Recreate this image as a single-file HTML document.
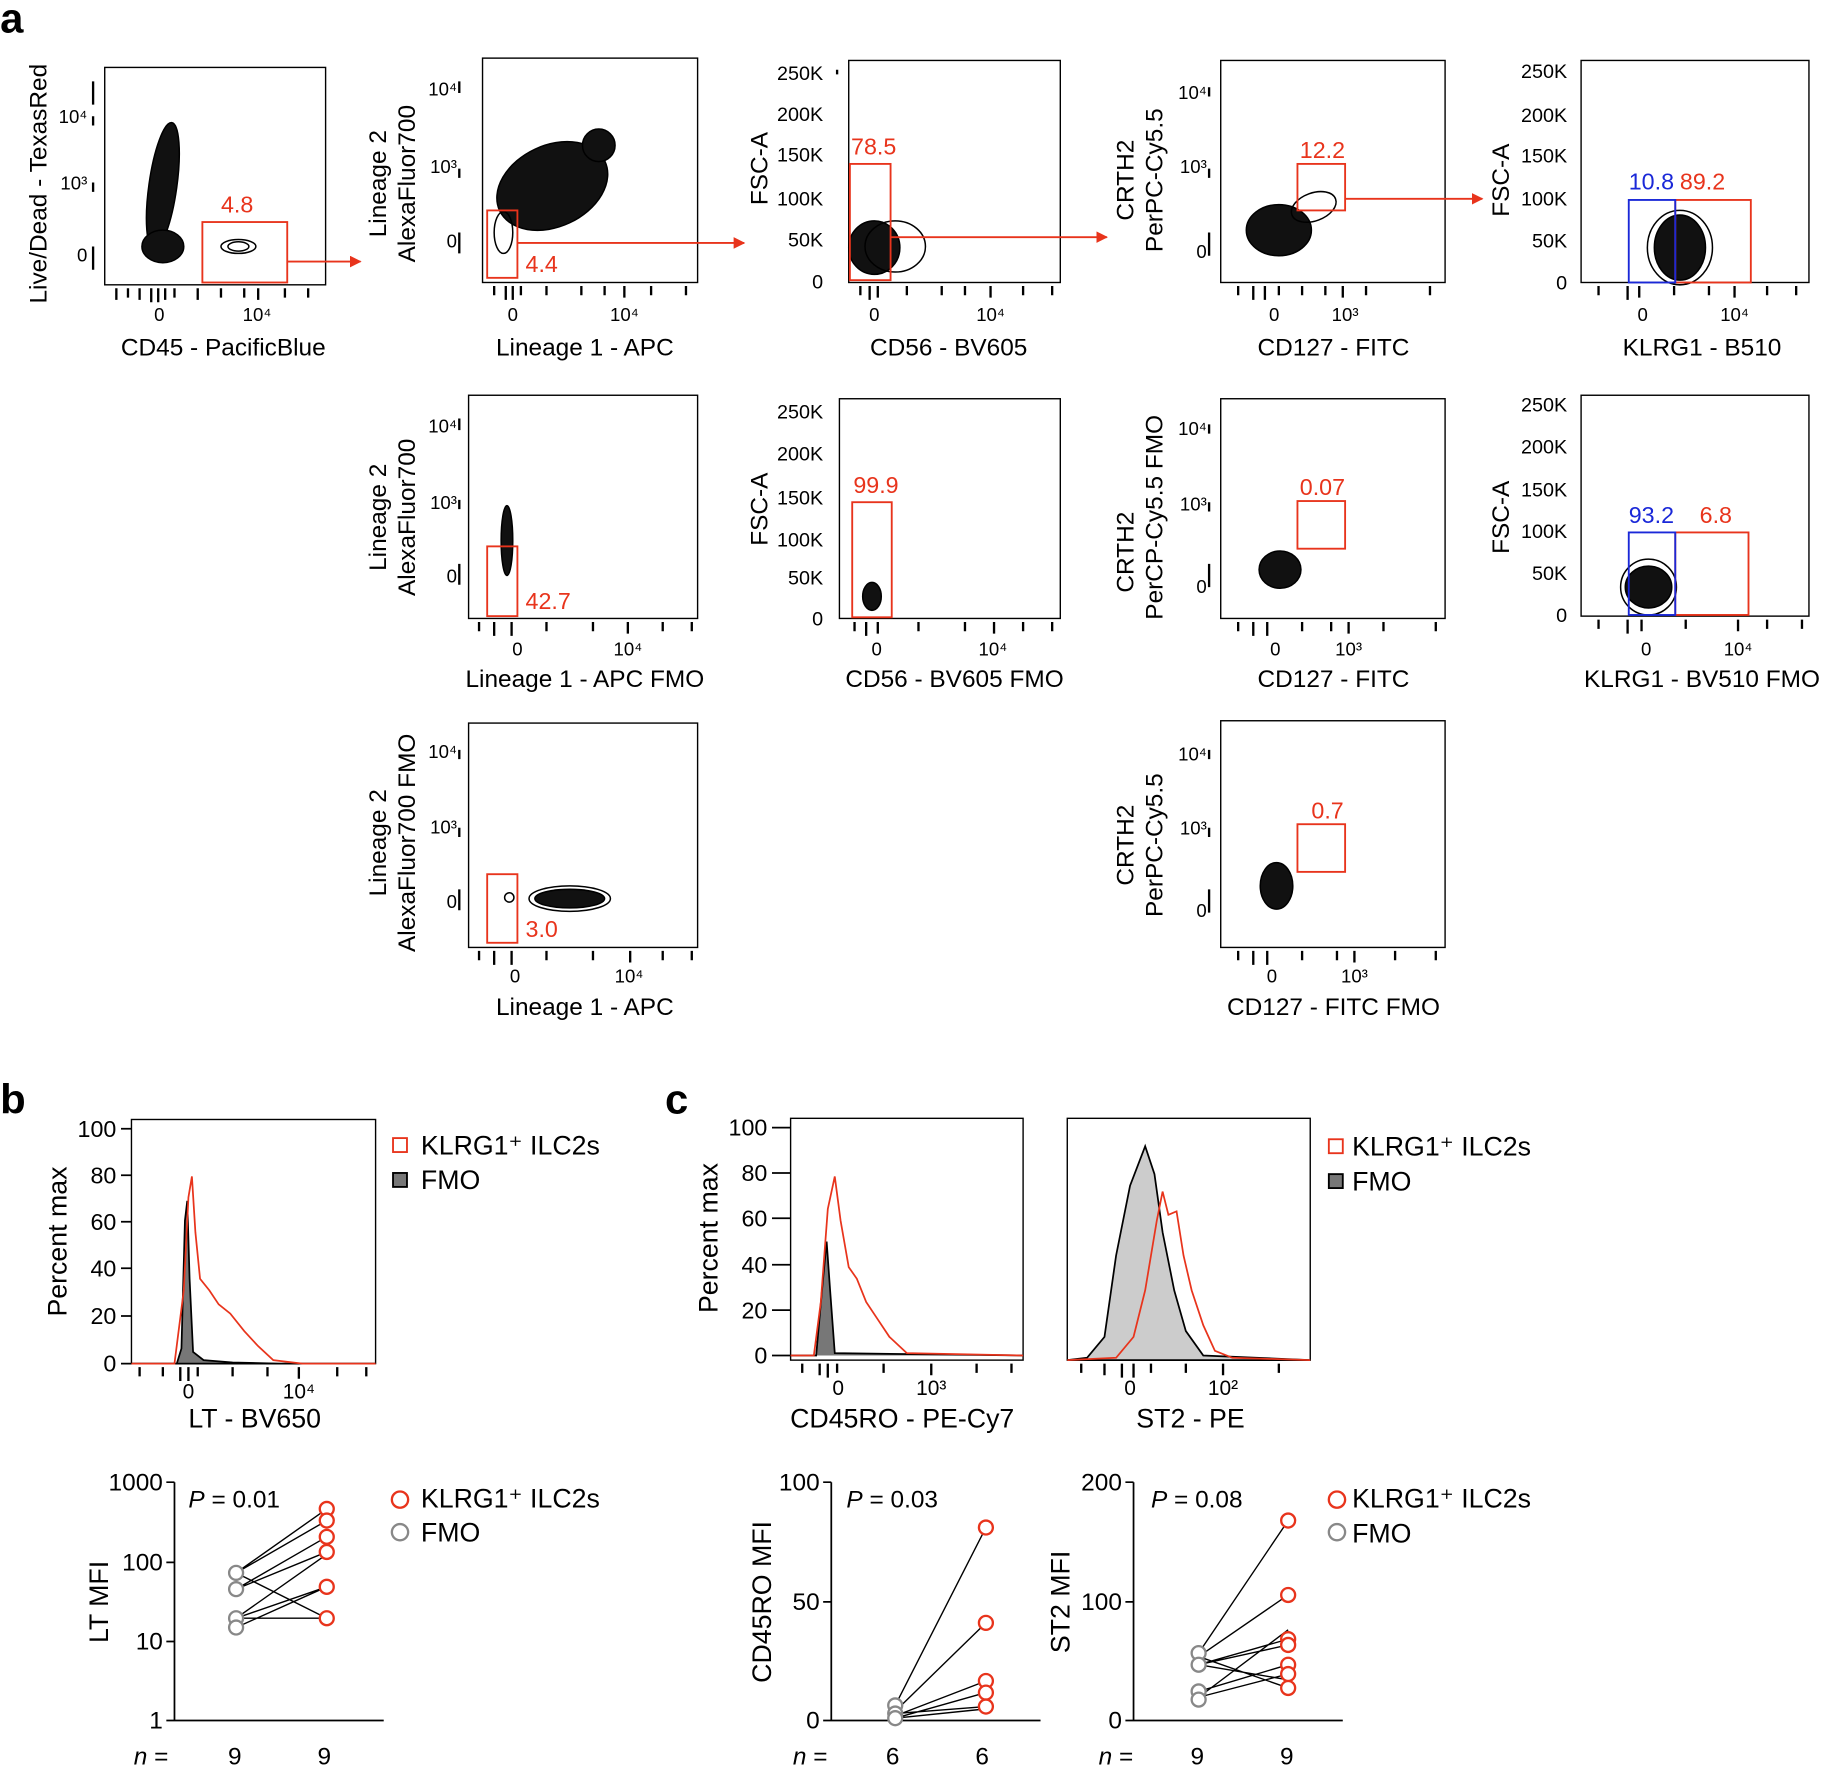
<!DOCTYPE html>
<html><head><meta charset="utf-8"><style>html,body{margin:0;padding:0;background:#fff}svg{display:block}text{font-family:"Liberation Sans",Arial,sans-serif}</style></head><body>
<svg width="1823" height="1767" viewBox="0 0 1568 1520" xmlns="http://www.w3.org/2000/svg">
<defs>
<marker id="ar" markerWidth="10" markerHeight="10" refX="9" refY="5" orient="auto" markerUnits="userSpaceOnUse"><path d="M0,0 L10,5 L0,10 z" fill="#e8341c"/></marker>
</defs>
<g font-size="20" fill="#000">
<text x="0" y="28" font-size="36" font-weight="bold">a</text>
<text x="0" y="958" font-size="36" font-weight="bold">b</text>
<text x="572" y="958" font-size="36" font-weight="bold">c</text>
</g>

<g fill="none" stroke="#000" stroke-width="1.2">
<rect x="90" y="58" width="190" height="187"/>
<rect x="415" y="50" width="185" height="193"/>
<rect x="730" y="52" width="182" height="191"/>
<rect x="1050" y="52" width="193" height="191"/>
<rect x="1360" y="52" width="196" height="191"/>
<rect x="403" y="340" width="197" height="192"/>
<rect x="722" y="343" width="190" height="189"/>
<rect x="1050" y="343" width="193" height="189"/>
<rect x="1360" y="340" width="196" height="190"/>
<rect x="403" y="622" width="197" height="193"/>
<rect x="1050" y="620" width="193" height="195"/>
<rect x="113" y="963" width="210" height="210"/>
<rect x="680" y="962" width="200" height="208"/>
<rect x="918" y="962" width="209" height="208"/>
</g>

<g stroke="#000" stroke-width="2">
<path d="M100 248v10M110 248v8M120 248v10M130 248v12M136 248v12M142 248v10M150 248v8M170 248v10M190 248v8M210 248v8M222 248v10M245 248v8M265 248v8"/>
<path d="M425 246v8M435 246v12M441 246v12M448 246v8M470 246v8M500 246v8M520 246v8M537 246v10M560 246v8M590 246v8"/>
<path d="M740 246v8M748 246v12M755 246v10M780 246v8M810 246v8M830 246v8M852 246v10M880 246v8M905 246v8"/>
<path d="M1065 246v8M1078 246v12M1088 246v12M1100 246v8M1120 246v8M1140 246v8M1155 246v10M1175 246v8M1230 246v8"/>
<path d="M1375 246v8M1400 246v12M1410 246v10M1440 246v8M1470 246v8M1492 246v10M1520 246v8M1545 246v8"/>
<path d="M412 535v8M425 535v12M440 535v12M470 535v8M510 535v8M540 535v10M570 535v8M595 535v8"/>
<path d="M735 535v8M745 535v12M755 535v10M790 535v8M830 535v8M855 535v10M880 535v8M905 535v8"/>
<path d="M1065 535v8M1078 535v12M1090 535v12M1120 535v8M1145 535v8M1160 535v10M1190 535v8M1235 535v8"/>
<path d="M1375 533v8M1400 533v12M1412 533v10M1450 533v8M1495 533v10M1520 533v8M1550 533v8"/>
<path d="M412 818v8M425 818v12M440 818v12M470 818v8M510 818v8M542 818v10M570 818v8M595 818v8"/>
<path d="M1065 818v8M1078 818v12M1090 818v12M1120 818v8M1150 818v8M1165 818v10M1200 818v8M1235 818v8"/>
<path d="M120 1176v8M140 1176v8M155 1176v12M162 1176v12M170 1176v8M200 1176v8M230 1176v8M257 1176v10M290 1176v8M315 1176v8"/>
<path d="M690 1173v8M705 1173v10M712 1173v12M720 1173v8M760 1173v8M801 1173v10M840 1173v8M870 1173v8"/>
<path d="M930 1173v8M950 1173v10M965 1173v12M975 1173v12M990 1173v8M1020 1173v8M1052 1173v10M1100 1173v8"/>
<path d="M80 70v20M80 100v8M80 157v8M80 212v20M395 70v10M395 145v8M395 200v18M720 60v4M1040 75v8M1040 145v8M1040 200v20M395 360v10M395 430v8M395 485v18M1040 365v8M1040 432v8M1040 485v20M395 645v8M395 712v8M395 765v18M1040 645v8M1040 712v8M1040 765v20"/>
</g>

<g fill="none" stroke="#000" stroke-width="1.3">
<ellipse cx="140" cy="160" rx="12" ry="55" transform="rotate(8 140 160)" fill="#111"/>
<ellipse cx="140" cy="212" rx="18" ry="14" fill="#111"/>
<ellipse cx="205" cy="212" rx="15" ry="6"/><ellipse cx="205" cy="212" rx="9" ry="4"/>
<ellipse cx="475" cy="160" rx="50" ry="35" transform="rotate(-25 475 160)" fill="#111"/>
<ellipse cx="515" cy="125" rx="14" ry="14" fill="#111"/>
<ellipse cx="433" cy="200" rx="8" ry="18"/>
<ellipse cx="752" cy="213" rx="22" ry="23" fill="#111"/><ellipse cx="770" cy="212" rx="26" ry="22"/>
<ellipse cx="1100" cy="198" rx="28" ry="22" fill="#111"/><ellipse cx="1130" cy="178" rx="20" ry="12" transform="rotate(-20 1130 178)"/>
<ellipse cx="1445" cy="213" rx="22" ry="28" fill="#111"/><ellipse cx="1445" cy="213" rx="28" ry="32"/>
<ellipse cx="436" cy="465" rx="5" ry="30" fill="#111"/>
<ellipse cx="750" cy="513" rx="8" ry="12" fill="#111"/>
<ellipse cx="1101" cy="490" rx="18" ry="16" fill="#111"/>
<ellipse cx="1418" cy="505" rx="20" ry="18" fill="#111"/><ellipse cx="1418" cy="505" rx="24" ry="24"/>
<ellipse cx="490" cy="773" rx="30" ry="8" fill="#111"/><ellipse cx="490" cy="773" rx="35" ry="11"/><ellipse cx="438" cy="772" rx="4" ry="4"/>
<ellipse cx="1098" cy="762" rx="14" ry="20" fill="#111"/>
</g>

<g fill="none" stroke="#e8341c" stroke-width="1.6">
<rect x="174" y="191" width="73" height="52"/>
<rect x="419" y="181" width="26" height="58"/>
<rect x="731" y="141" width="35" height="100"/>
<rect x="1116" y="141" width="41" height="40"/>
<rect x="1441" y="172" width="65" height="71"/>
<rect x="419" y="470" width="26" height="60"/>
<rect x="733" y="432" width="34" height="99"/>
<rect x="1116" y="431" width="41" height="41"/>
<rect x="1441" y="458" width="63" height="71"/>
<rect x="419" y="752" width="26" height="59"/>
<rect x="1116" y="709" width="41" height="41"/>
<path d="M247 225H310" marker-end="url(#ar)"/>
<path d="M445 209H640" marker-end="url(#ar)"/>
<path d="M766 204H952" marker-end="url(#ar)"/>
<path d="M1157 171H1275" marker-end="url(#ar)"/>
</g>
<g fill="none" stroke="#1a28d8" stroke-width="1.6">
<rect x="1401" y="172" width="40" height="71"/>
<rect x="1401" y="458" width="40" height="71"/>
</g>

<g font-size="20" fill="#e8341c">
<text x="190" y="183">4.8</text><text x="452" y="234">4.4</text><text x="732" y="133">78.5</text>
<text x="1118" y="136">12.2</text><text x="1445" y="163">89.2</text>
<text x="452" y="524">42.7</text><text x="734" y="424">99.9</text><text x="1118" y="426">0.07</text>
<text x="1462" y="450">6.8</text><text x="452" y="806">3.0</text><text x="1128" y="704">0.7</text>
</g>
<g font-size="20" fill="#1a28d8"><text x="1401" y="163">10.8</text><text x="1401" y="450">93.2</text></g>

<g font-size="16" text-anchor="middle">
<text x="137" y="276">0</text><text x="221" y="276">10⁴</text>
<text x="441" y="276">0</text><text x="537" y="276">10⁴</text>
<text x="752" y="276">0</text><text x="852" y="276">10⁴</text>
<text x="1096" y="276">0</text><text x="1157" y="276">10³</text>
<text x="1413" y="276">0</text><text x="1492" y="276">10⁴</text>
<text x="445" y="564">0</text><text x="540" y="564">10⁴</text>
<text x="754" y="564">0</text><text x="854" y="564">10⁴</text>
<text x="1097" y="564">0</text><text x="1160" y="564">10³</text>
<text x="1416" y="564">0</text><text x="1495" y="564">10⁴</text>
<text x="443" y="845">0</text><text x="541" y="845">10⁴</text>
<text x="1094" y="845">0</text><text x="1165" y="845">10³</text>
<text x="162" y="1203" font-size="18">0</text><text x="257" y="1203" font-size="18">10⁴</text>
<text x="721" y="1200" font-size="18">0</text><text x="801" y="1200" font-size="18">10³</text>
<text x="972" y="1200" font-size="18">0</text><text x="1052" y="1200" font-size="18">10²</text>
</g>
<g font-size="16" text-anchor="end">
<text x="75" y="106">10⁴</text><text x="75" y="163">10³</text><text x="75" y="225">0</text>
<text x="393" y="82">10⁴</text><text x="393" y="149">10³</text><text x="393" y="213">0</text>
<text x="1038" y="85">10⁴</text><text x="1038" y="149">10³</text><text x="1038" y="222">0</text>
<text x="393" y="372">10⁴</text><text x="393" y="438">10³</text><text x="393" y="501">0</text>
<text x="1038" y="374">10⁴</text><text x="1038" y="439">10³</text><text x="1038" y="510">0</text>
<text x="393" y="652">10⁴</text><text x="393" y="717">10³</text><text x="393" y="781">0</text>
<text x="1038" y="654">10⁴</text><text x="1038" y="718">10³</text><text x="1038" y="789">0</text>
</g>
<g font-size="17" text-anchor="end">
<text x="708" y="69">250K</text><text x="708" y="104">200K</text><text x="708" y="139">150K</text><text x="708" y="177">100K</text><text x="708" y="212">50K</text><text x="708" y="248">0</text>
<text x="1348" y="67">250K</text><text x="1348" y="105">200K</text><text x="1348" y="140">150K</text><text x="1348" y="177">100K</text><text x="1348" y="213">50K</text><text x="1348" y="249">0</text>
<text x="708" y="360">250K</text><text x="708" y="396">200K</text><text x="708" y="434">150K</text><text x="708" y="470">100K</text><text x="708" y="503">50K</text><text x="708" y="538">0</text>
<text x="1348" y="354">250K</text><text x="1348" y="390">200K</text><text x="1348" y="427">150K</text><text x="1348" y="463">100K</text><text x="1348" y="499">50K</text><text x="1348" y="535">0</text>
</g>
<g font-size="20" text-anchor="end">
<text x="100" y="978">100</text><text x="100" y="1018">80</text><text x="100" y="1058">60</text><text x="100" y="1098">40</text><text x="100" y="1139">20</text><text x="100" y="1180">0</text>
<text x="660" y="977">100</text><text x="660" y="1016">80</text><text x="660" y="1055">60</text><text x="660" y="1095">40</text><text x="660" y="1134">20</text><text x="660" y="1173">0</text>
</g>
<g stroke="#000" stroke-width="1.5"><path d="M104 971h9M104 1011h9M104 1051h9M104 1091h9M104 1132h9M104 1173h9M664 970h16M664 1009h16M664 1048h16M664 1088h16M664 1127h16M664 1166h16"/></g>

<g font-size="21" text-anchor="middle">
<text x="192" y="306">CD45 - PacificBlue</text>
<text x="503" y="306">Lineage 1 - APC</text>
<text x="816" y="306">CD56 - BV605</text>
<text x="1147" y="306">CD127 - FITC</text>
<text x="1464" y="306">KLRG1 - B510</text>
<text x="503" y="591">Lineage 1 - APC FMO</text>
<text x="821" y="591">CD56 - BV605 FMO</text>
<text x="1147" y="591">CD127 - FITC</text>
<text x="1464" y="591">KLRG1 - BV510 FMO</text>
<text x="503" y="873">Lineage 1 - APC</text>
<text x="1147" y="873">CD127 - FITC FMO</text>
<text x="219" y="1228" font-size="23">LT - BV650</text>
<text x="776" y="1228" font-size="23">CD45RO - PE-Cy7</text>
<text x="1024" y="1228" font-size="23">ST2 - PE</text>
<text transform="translate(40 158) rotate(-90)">Live/Dead - TexasRed</text>
<text transform="translate(332 158) rotate(-90)">Lineage 2</text>
<text transform="translate(357 158) rotate(-90)">AlexaFluor700</text>
<text transform="translate(660 145) rotate(-90)">FSC-A</text>
<text transform="translate(975 155) rotate(-90)">CRTH2</text>
<text transform="translate(1000 155) rotate(-90)">PerPC-Cy5.5</text>
<text transform="translate(1298 155) rotate(-90)">FSC-A</text>
<text transform="translate(332 445) rotate(-90)">Lineage 2</text>
<text transform="translate(357 445) rotate(-90)">AlexaFluor700</text>
<text transform="translate(660 438) rotate(-90)">FSC-A</text>
<text transform="translate(975 475) rotate(-90)">CRTH2</text>
<text transform="translate(1000 445) rotate(-90)">PerCP-Cy5.5 FMO</text>
<text transform="translate(1298 445) rotate(-90)">FSC-A</text>
<text transform="translate(332 725) rotate(-90)">Lineage 2</text>
<text transform="translate(357 725) rotate(-90)">AlexaFluor700 FMO</text>
<text transform="translate(975 727) rotate(-90)">CRTH2</text>
<text transform="translate(1000 727) rotate(-90)">PerPC-Cy5.5</text>
<text transform="translate(57 1068) rotate(-90)" font-size="23">Percent max</text>
<text transform="translate(617 1065) rotate(-90)" font-size="23">Percent max</text>
<text transform="translate(93 1378) rotate(-90)" font-size="23">LT MFI</text>
<text transform="translate(663 1378) rotate(-90)" font-size="23">CD45RO MFI</text>
<text transform="translate(920 1378) rotate(-90)" font-size="23">ST2 MFI</text>
</g>

<path d="M113 1173 L152 1173 L156 1160 L159 1050 L161 1033 L163 1100 L166 1163 L175 1170 L200 1172 L240 1173 L323 1173Z" fill="#777" stroke="#000" stroke-width="1.5"/>
<path d="M113 1173 L150 1173 L158 1110 L162 1030 L165 1012 L168 1060 L172 1100 L180 1110 L188 1122 L198 1130 L210 1145 L222 1158 L235 1170 L260 1173 L323 1173" fill="none" stroke="#e8341c" stroke-width="1.5"/>
<path d="M680 1166 L702 1166 L707 1110 L711 1068 L714 1110 L718 1164 L880 1166" fill="#777" stroke="#000" stroke-width="1.5"/>
<path d="M680 1166 L700 1166 L706 1120 L712 1040 L718 1012 L723 1050 L730 1090 L737 1100 L745 1120 L755 1135 L765 1150 L780 1164 L880 1166" fill="none" stroke="#e8341c" stroke-width="1.5"/>
<path d="M918 1170 L935 1168 L950 1150 L960 1080 L972 1020 L985 986 L993 1010 L1000 1060 L1010 1110 L1020 1145 L1035 1166 L1127 1170Z" fill="#ccc" stroke="#000" stroke-width="1.5"/>
<path d="M918 1170 L960 1168 L975 1150 L985 1110 L995 1050 L1000 1025 L1005 1045 L1012 1042 L1018 1080 L1025 1110 L1035 1140 L1045 1162 L1060 1168 L1127 1170" fill="none" stroke="#e8341c" stroke-width="1.5"/>

<g font-size="23">
<rect x="338" y="979" width="12" height="12" fill="none" stroke="#e8341c" stroke-width="1.6"/><text x="362" y="993">KLRG1⁺ ILC2s</text>
<rect x="338" y="1009" width="12" height="12" fill="#777" stroke="#000" stroke-width="1.6"/><text x="362" y="1023">FMO</text>
<rect x="1143" y="980" width="12" height="12" fill="none" stroke="#e8341c" stroke-width="1.6"/><text x="1163" y="994">KLRG1⁺ ILC2s</text>
<rect x="1143" y="1010" width="12" height="12" fill="#777" stroke="#000" stroke-width="1.6"/><text x="1163" y="1024">FMO</text>
<circle cx="344" cy="1290" r="7" fill="none" stroke="#e8341c" stroke-width="2"/><text x="362" y="1297">KLRG1⁺ ILC2s</text>
<circle cx="344" cy="1318" r="7" fill="none" stroke="#888" stroke-width="2"/><text x="362" y="1326">FMO</text>
<circle cx="1150" cy="1290" r="7" fill="none" stroke="#e8341c" stroke-width="2"/><text x="1163" y="1297">KLRG1⁺ ILC2s</text>
<circle cx="1150" cy="1318" r="7" fill="none" stroke="#888" stroke-width="2"/><text x="1163" y="1327">FMO</text>
</g>

<g stroke="#000" stroke-width="1.5" fill="none">
<path d="M150 1275V1480H330M143 1275h7M143 1344h7M143 1412h7M143 1480h7"/>
<path d="M715 1275V1480H895M708 1275h7M708 1378h7M708 1480h7"/>
<path d="M975 1275V1480H1155M968 1275h7M968 1378h7M968 1480h7"/>
</g>
<g font-size="21" text-anchor="end">
<text x="140" y="1282">1000</text><text x="140" y="1351">100</text><text x="140" y="1419">10</text><text x="140" y="1487">1</text>
<text x="705" y="1282">100</text><text x="705" y="1385">50</text><text x="705" y="1487">0</text>
<text x="965" y="1282">200</text><text x="965" y="1385">100</text><text x="965" y="1487">0</text>
</g>
<g font-size="21">
<text x="162" y="1297"><tspan font-style="italic">P</tspan> = 0.01</text>
<text x="728" y="1297"><tspan font-style="italic">P</tspan> = 0.03</text>
<text x="990" y="1297"><tspan font-style="italic">P</tspan> = 0.08</text>
<text x="115" y="1518"><tspan font-style="italic">n</tspan> =</text><text x="196" y="1518">9</text><text x="273" y="1518">9</text>
<text x="682" y="1518"><tspan font-style="italic">n</tspan> =</text><text x="762" y="1518">6</text><text x="839" y="1518">6</text>
<text x="945" y="1518"><tspan font-style="italic">n</tspan> =</text><text x="1024" y="1518">9</text><text x="1101" y="1518">9</text>
</g>
<g stroke="#000" stroke-width="1.2">
<path d="M203 1353L281 1298M203 1353L281 1308M203 1367L281 1322M203 1367L281 1335M203 1392L281 1337M203 1392L281 1365M203 1400L281 1365M203 1392L281 1392M203 1353L281 1392"/>
<path d="M770 1467L848 1314M770 1472L848 1396M770 1476L848 1446M770 1478L848 1456M770 1474L848 1468M770 1478L848 1470"/>
<path d="M1031 1422L1108 1308M1031 1425L1108 1372M1031 1432L1108 1410M1031 1432L1108 1415M1031 1455L1108 1432M1031 1460L1108 1440M1031 1432L1108 1445M1031 1425L1108 1452M1031 1460L1108 1402"/>
</g>
<g fill="#fff" stroke="#888" stroke-width="2">
<circle cx="203" cy="1353" r="6"/><circle cx="203" cy="1367" r="6"/><circle cx="203" cy="1392" r="6"/><circle cx="203" cy="1400" r="6"/>
<circle cx="770" cy="1467" r="6"/><circle cx="770" cy="1474" r="6"/><circle cx="770" cy="1478" r="6"/>
<circle cx="1031" cy="1422" r="6"/><circle cx="1031" cy="1432" r="6"/><circle cx="1031" cy="1455" r="6"/><circle cx="1031" cy="1462" r="6"/>
</g>
<g fill="#fff" stroke="#e8341c" stroke-width="2">
<circle cx="281" cy="1298" r="6"/><circle cx="281" cy="1308" r="6"/><circle cx="281" cy="1322" r="6"/><circle cx="281" cy="1335" r="6"/><circle cx="281" cy="1365" r="6"/><circle cx="281" cy="1392" r="6"/>
<circle cx="848" cy="1314" r="6"/><circle cx="848" cy="1396" r="6"/><circle cx="848" cy="1446" r="6"/><circle cx="848" cy="1456" r="6"/><circle cx="848" cy="1468" r="6"/>
<circle cx="1108" cy="1308" r="6"/><circle cx="1108" cy="1372" r="6"/><circle cx="1108" cy="1410" r="6"/><circle cx="1108" cy="1415" r="6"/><circle cx="1108" cy="1432" r="6"/><circle cx="1108" cy="1440" r="6"/><circle cx="1108" cy="1452" r="6"/>
</g>
</svg>
</body></html>
